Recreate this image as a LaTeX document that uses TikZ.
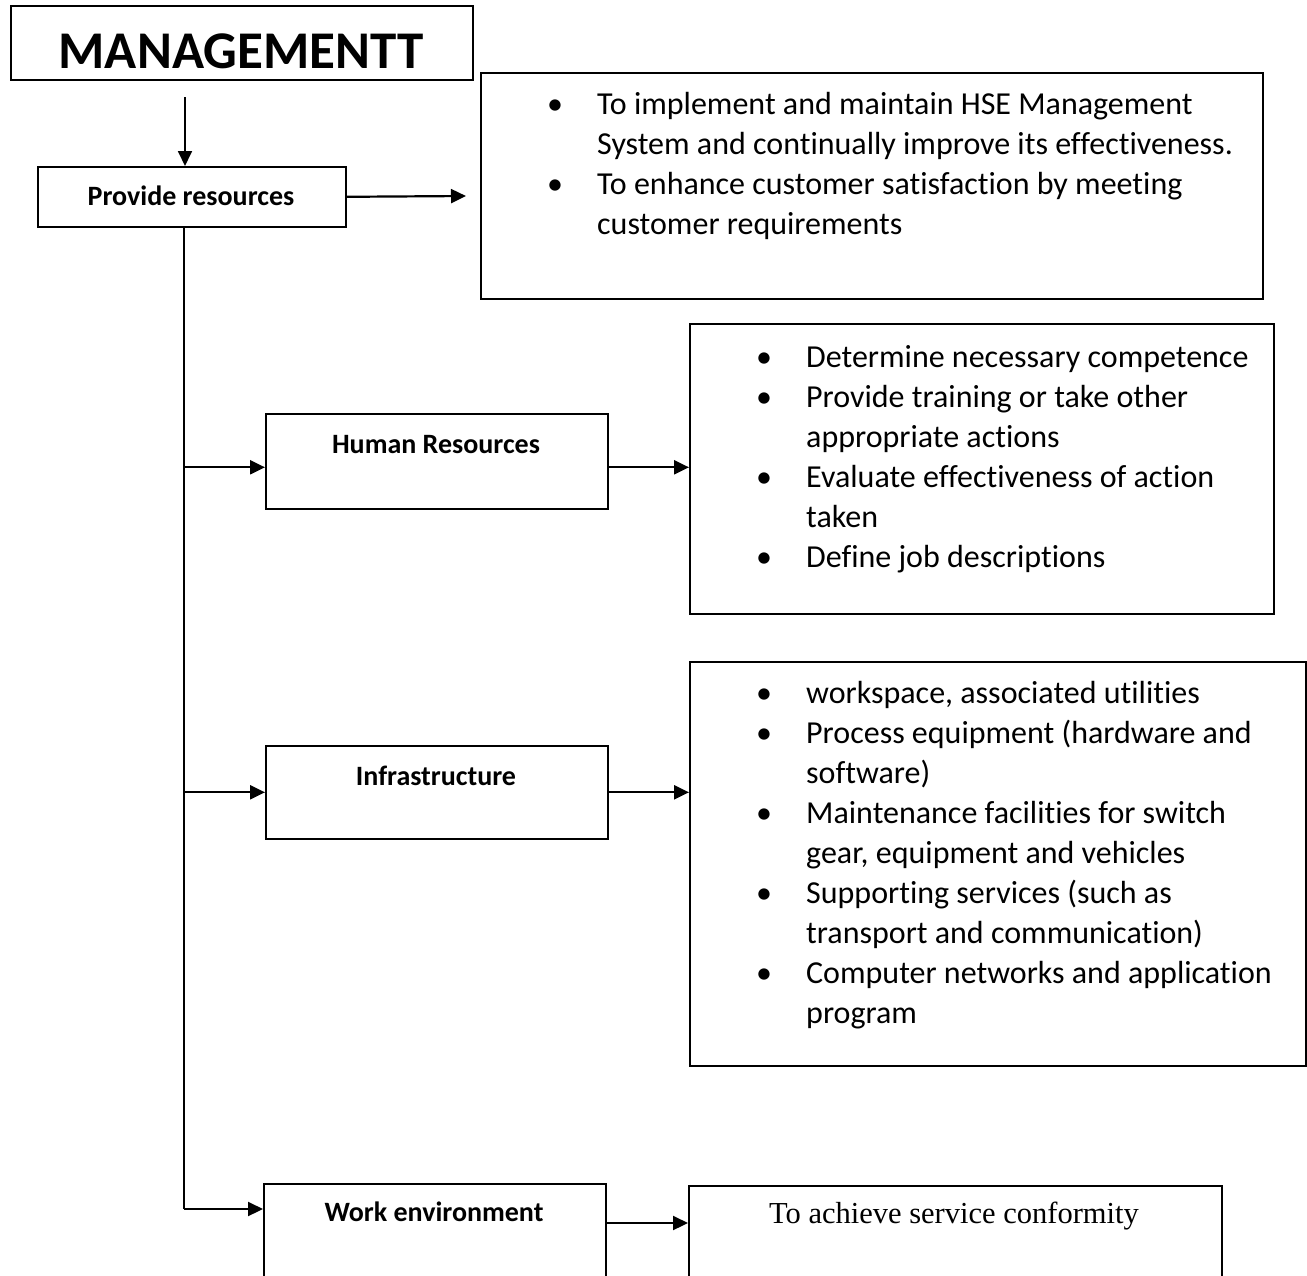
\documentclass[tikz,border=0pt]{standalone}
\usepackage{fontspec}
\setmainfont{Carlito}[Ligatures=NoCommon]
\newfontfamily\serifface{Liberation Serif}
\usetikzlibrary{arrows.meta, positioning}

\newcommand{\blt}{\llap{\makebox[84pt]{\textbullet}}}

\begin{document}
\begin{tikzpicture}[
  x=1pt, y=-1pt,
  box/.style={rectangle, draw=black, line width=1.6pt, inner sep=0pt,
    anchor=north west},
  title/.style={font=\bfseries\fontsize{28}{34}\selectfont, inner sep=0pt,
    anchor=base},
  listline/.style={font=\fontsize{32}{40}\selectfont, inner sep=0pt,
    anchor=base west},
  link/.style={line width=2.2pt, -{Triangle[length=15pt, width=14pt]}},
  trunk/.style={line width=2.2pt}
]
  \useasboundingbox (0,0) rectangle (1307,1275);
  \clip (0,0) rectangle (1307,1275);

  % left column
  \node[box, minimum width=462pt, minimum height=74pt] (mgmt) at (10,5) {};
  \node[title, font=\bfseries\fontsize{53}{60}\selectfont] (mgmttxt)
    at (241,68) {MANAGEMENTT};
  \node[box, minimum width=308pt, minimum height=60pt] (prov) at (37,166) {};
  \node[title] (provtxt) at (191,205) {Provide resources};
  \node[box, minimum width=342pt, minimum height=95pt] (hr) at (265,413) {};
  \node[title] (hrtxt) at (436,453) {Human Resources};
  \node[box, minimum width=342pt, minimum height=93pt] (infra) at (265,745) {};
  \node[title] (infratxt) at (436,785) {Infrastructure};
  \node[box, minimum width=342pt, minimum height=140pt] (work) at (263,1183) {};
  \node[title] (worktxt) at (434,1221) {Work environment};

  % right column
  \node[box, minimum width=782pt, minimum height=226pt] (goal) at (480,72) {};
  \foreach \txt [count=\i from 0] in {
      {\blt To implement and maintain HSE Management},
      {System and continually improve its effectiveness.},
      {\blt To enhance customer satisfaction by meeting},
      {customer requirements}}
    \node[listline] (goal\i) at (597, 114+40*\i) {\txt};

  \node[box, minimum width=584pt, minimum height=290pt] (hrlist) at (689,323) {};
  \foreach \txt [count=\i from 0] in {
      {\blt Determine necessary competence},
      {\blt Provide training or take other},
      {appropriate actions},
      {\blt Evaluate effectiveness of action},
      {taken},
      {\blt Define job descriptions}}
    \node[listline] (hrl\i) at (806, 367+40*\i) {\txt};

  \node[box, minimum width=616pt, minimum height=404pt] (infralist) at (689,661) {};
  \foreach \txt [count=\i from 0] in {
      {\blt workspace, associated utilities},
      {\blt Process equipment (hardware and},
      {software)},
      {\blt Maintenance facilities for switch},
      {gear, equipment and vehicles},
      {\blt Supporting services (such as},
      {transport and communication)},
      {\blt Computer networks and application},
      {program}}
    \node[listline] (infral\i) at (806, 703+40*\i) {\txt};

  \node[box, minimum width=533pt, minimum height=140pt] (conf) at (688,1185) {};
  \node[title, font=\serifface\fontsize{30.5}{36}\selectfont] (conftxt)
    at (954,1223) {To achieve service conformity};

  % connectors
  \coordinate (drop) at (185,97);
  \coordinate (goalin) at (466,196);
  \coordinate (spine) at (184,226);
  \coordinate (spineend) at (184,1209);
  \coordinate (hrin) at ([yshift=-6pt]hr.west);
  \coordinate (workin) at (work.west |- spineend);
  \coordinate (workout) at (work.west |- conftxt.base);

  \draw[link, line width=1.8pt] (drop) -- (drop |- prov.north);
  \draw[link] (prov.east) -- (goalin);
  \draw[trunk] (spine) -- (spineend);
  \draw[link] (spine |- hrin) -- (hrin);
  \draw[link] (hr.east |- hrin) -- (hrlist.west |- hrin);
  \draw[link] (spine |- infra.west) -- (infra.west);
  \draw[link] (infra.east) -- (infralist.west |- infra.east);
  \draw[link] (spineend) -- (workin);
  \draw[link] (work.east |- workout) -- (conf.west |- workout);
\end{tikzpicture}
\end{document}
